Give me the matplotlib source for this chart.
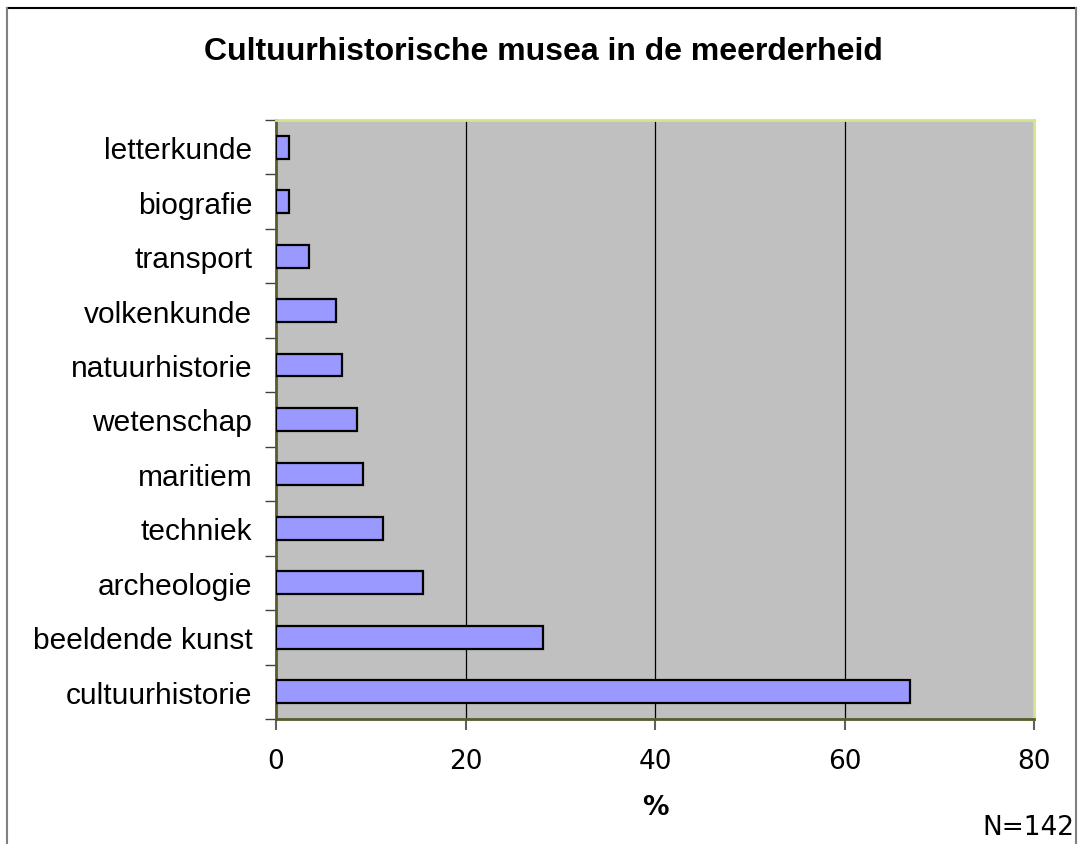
import numpy as np
import matplotlib.pyplot as plt
from matplotlib.lines import Line2D

# data (percent of N=142)
categories = ['cultuurhistorie', 'beeldende kunst', 'archeologie', 'techniek', 'maritiem',
              'wetenschap', 'natuurhistorie', 'volkenkunde', 'transport', 'biografie', 'letterkunde']
values = [66.9, 28.2, 15.5, 11.3, 9.2, 8.5, 7.0, 6.3, 3.5, 1.4, 1.4]
xticks = [0, 20, 40, 60, 80]

fig = plt.figure(figsize=(10.82, 8.45), dpi=100)
ax = fig.add_axes([276/1082, 1 - 720/845, (1034-276)/1082, (720-121)/845])
ax.set_facecolor('#c0c0c0')

y = np.arange(len(categories))
ax.barh(y, values, height=0.42, color='#9999ff', edgecolor='black', linewidth=1.6, zorder=3)

ax.set_xlim(0, 80)
ax.set_ylim(-0.5, len(categories) - 0.5)
ax.set_xticks(xticks)
ax.set_xticklabels([str(v) for v in xticks], fontfamily='DejaVu Sans', fontsize=19)
ax.set_yticks(y)
ax.set_yticklabels(categories, fontfamily='Liberation Sans', fontsize=21.5)
ax.set_yticks(np.arange(len(categories) + 1) - 0.5, minor=True)
ax.tick_params(axis='y', which='major', length=0, pad=17)
ax.tick_params(axis='y', which='minor', length=8, color='#404040', width=1)
ax.tick_params(axis='x', length=8, color='#606060', width=1.5, pad=13)

for g in xticks[1:-1]:
    ax.axvline(g, color='black', linewidth=0.9, zorder=1)

ax.spines['left'].set_color('#5a5a2a')
ax.spines['bottom'].set_color('#5a5a2a')
ax.spines['top'].set_color('#cfe68a')
ax.spines['right'].set_color('#cfe68a')
for s in ax.spines.values():
    s.set_linewidth(2)

ax.set_xlabel('%', fontfamily='DejaVu Sans', fontweight='bold', fontsize=19, labelpad=14)

fig.text(543/1082, 1 - 52/845, 'Cultuurhistorische musea in de meerderheid',
         ha='center', va='center', fontfamily='Liberation Sans', fontweight='bold', fontsize=23)
fig.text(1074/1082, 1 - 828/845, 'N=142', ha='right', va='center',
         fontfamily='DejaVu Sans', fontsize=19)

# outer frame (no bottom edge)
fig.add_artist(Line2D([7/1082, 1076/1082], [1 - 9/845, 1 - 9/845], transform=fig.transFigure, color='black', linewidth=1.5))
fig.add_artist(Line2D([7/1082, 7/1082], [1 - 9/845, 0], transform=fig.transFigure, color='#808080', linewidth=1.5))
fig.add_artist(Line2D([1076/1082, 1076/1082], [1 - 9/845, 0], transform=fig.transFigure, color='#808080', linewidth=1.5))

fig.savefig('out.png', dpi=100)
